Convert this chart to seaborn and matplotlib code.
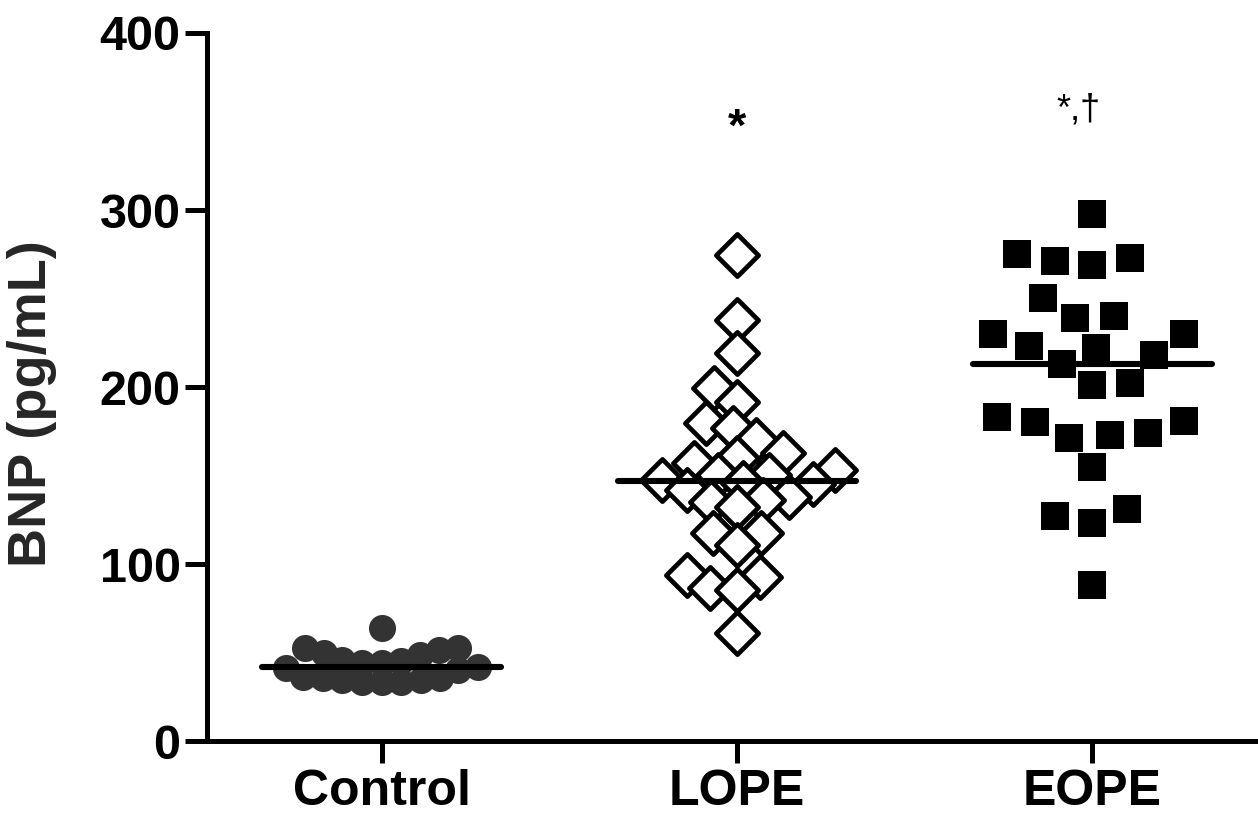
import numpy as np
import pandas as pd
import matplotlib
matplotlib.use("Agg")
import matplotlib.pyplot as plt
import seaborn as sns

# ---- data ----
categories = ["Control", "LOPE", "EOPE"]
control_bnp = [63.8, 52.5, 52.5, 51.4, 49.7, 48.6, 45.8, 45.0, 44.0, 44.0, 42.0,
               41.0, 40.0, 36.0, 35.6, 35.6, 34.5, 34.5, 33.3, 33.3, 33.3]
lope_bnp = [274.6, 237.9, 219.2, 199.4, 191.5, 179.7, 176.8, 170.0, 162.7, 160.0,
            157.0, 153.0, 150.3, 150.0, 146.0, 147.5, 145.0, 141.8, 138.0, 136.0,
            135.0, 132.0, 117.5, 117.5, 110.7, 93.8, 92.7, 86.4, 85.3, 61.0]
eope_bnp = [298, 275, 273, 271, 269, 250, 240, 239, 230, 230, 223, 222, 218, 213,
            202, 201, 183, 181, 180, 174, 173, 171, 155, 131, 127, 123, 88]
y_ticks = [0, 100, 200, 300, 400]
annotations = {"LOPE": "*", "EOPE": "*,\u2020"}
y_label = "BNP (pg/mL)"

sns.set_theme(style="ticks")
plt.rcParams["font.family"] = ["Liberation Sans", "DejaVu Sans"]
plt.rcParams["axes.edgecolor"] = "black"
plt.rcParams["xtick.color"] = "black"
plt.rcParams["ytick.color"] = "black"

df = pd.DataFrame({
    "group": ["Control"] * len(control_bnp) + ["LOPE"] * len(lope_bnp) + ["EOPE"] * len(eope_bnp),
    "bnp": control_bnp + lope_bnp + eope_bnp,
})

fig = plt.figure(figsize=(12.58, 8.22), dpi=100)
ax = fig.add_axes([207 / 1258, 81 / 822, 1051 / 1258, 708 / 822])
ax.set_xlim(-0.491, 2.466)
ax.set_ylim(0, 400)

styles = {
    "Control": dict(marker="o", color="#333333", linewidth=0),
    "LOPE": dict(marker="D", color="white", edgecolor="black", linewidth=3.4),
    "EOPE": dict(marker="s", color="black", linewidth=0),
}
# swarm spacing (collision size) vs. drawn marker size, in points
layout_size = {"Control": 13.5, "LOPE": 15, "EOPE": 26}
marker_size = {"Control": 19.5, "LOPE": 21.5, "EOPE": 20}

group_colls = {}
for g in categories:
    sub = df[df["group"] == g]
    n0 = len(ax.collections)
    sns.swarmplot(data=sub, x="group", y="bnp", order=categories, ax=ax,
                  zorder=3, size=layout_size[g], **styles[g])
    group_colls[g] = ax.collections[n0:]

ax.set_xlim(-0.491, 2.466)
ax.set_ylim(0, 400)
# let seaborn compute the swarm layout, then freeze it and enlarge markers
fig.canvas.draw()
for g, colls in group_colls.items():
    for c in colls:
        if "draw" in c.__dict__:
            del c.draw
        c.set_sizes([marker_size[g] ** 2])

# median lines
for i, g in enumerate(categories):
    med = np.median(df.loc[df["group"] == g, "bnp"])
    ax.hlines(med, i - 0.336, i + 0.336, color="black", lw=4.4, zorder=6,
              capstyle="round")

# significance marks
ax.text(categories.index("LOPE"), 339, annotations["LOPE"], ha="center",
        va="baseline", fontsize=34, fontweight="bold", color="black")
ax.text(categories.index("EOPE") - 0.04, 351, annotations["EOPE"], ha="center",
        va="baseline", fontsize=26, color="black")

ax.set_xlim(-0.491, 2.466)
ax.set_ylim(0, 400)
ax.set_yticks(y_ticks)
ax.set_xlabel("")
ax.set_ylabel(y_label, fontsize=39, fontweight="bold")
ax.yaxis.set_label_coords(-0.143, 0.477)

sns.despine(ax=ax)
for s in ["left", "bottom"]:
    ax.spines[s].set_linewidth(3.6)
    ax.spines[s].set_color("black")

ax.tick_params(axis="y", labelsize=35, width=3.6, length=16, pad=3, direction="out")
ax.tick_params(axis="x", labelsize=36, width=3.6, length=16, pad=4, direction="out")
for lab in ax.get_yticklabels() + ax.get_xticklabels():
    lab.set_fontweight("bold")

fig.savefig("out.png", dpi=100)
